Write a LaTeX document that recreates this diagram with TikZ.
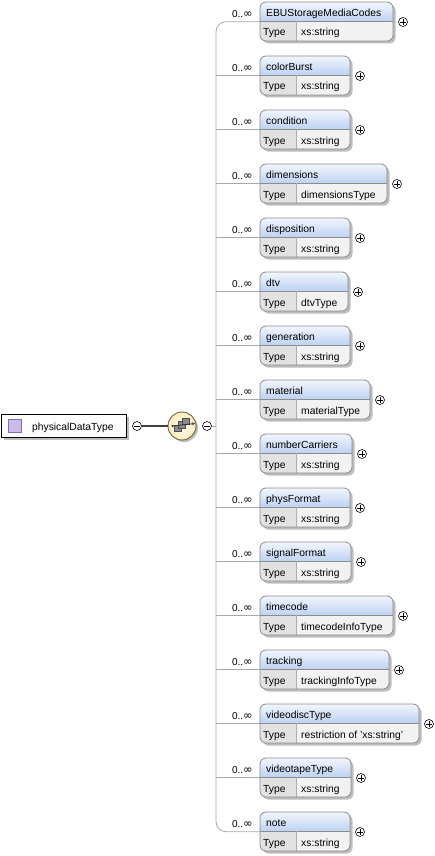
\documentclass[tikz,border=0pt]{standalone}
\usepackage{fontspec}
\setmainfont{Liberation Sans}
\newfontfamily\symfont{DejaVu Sans}
\usetikzlibrary{arrows.meta}
\definecolor{hdtop}{HTML}{F2F6FD}
\definecolor{hdbot}{HTML}{BED2F2}
\definecolor{rowc}{HTML}{F2F2F2}
\definecolor{typec}{HTML}{E2E2E2}
\definecolor{bordc}{HTML}{8C8C8C}
\definecolor{shadc}{HTML}{BDBDBD}
\definecolor{busc}{HTML}{A8A8A8}
\definecolor{seqfill}{HTML}{FBF6C8}
\definecolor{seqbord}{HTML}{6E6440}
\definecolor{iconfill}{HTML}{C9BCEB}
\definecolor{iconbord}{HTML}{7F6FB3}
\tikzset{
  elemframe/.style={draw=none, inner sep=0pt, anchor=north west, minimum height=39pt},
  titletext/.style={anchor=base west, inner sep=0pt, font=\fontsize{10.3}{12}\selectfont},
  rowtext/.style={anchor=base west, inner sep=0pt, font=\fontsize{10.3}{12}\selectfont},
  multtext/.style={anchor=base east, inner sep=0pt, font=\fontsize{10}{12}\selectfont},
  expander/.style={circle, draw=black, fill=white, minimum size=9pt, inner sep=0pt, line width=0.6pt,
    path picture={\draw[line width=0.7pt] ([xshift=-2.6pt]path picture bounding box.center) -- ([xshift=2.6pt]path picture bounding box.center);
      \draw[line width=0.7pt] ([yshift=-2.6pt]path picture bounding box.center) -- ([yshift=2.6pt]path picture bounding box.center);}},
  collapser/.style={circle, draw=black, fill=white, minimum size=9pt, inner sep=0pt, line width=0.6pt,
    path picture={\draw[line width=0.7pt] ([xshift=-2.6pt]path picture bounding box.center) -- ([xshift=2.6pt]path picture bounding box.center);}},
  busline/.style={draw=busc, line width=0.8pt},
}
\begin{document}
\begin{tikzpicture}[x=1pt,y=-1pt]
\useasboundingbox (0,0) rectangle (435,856);
\fill[white] (0,0) rectangle (435,856);
\coordinate (bus) at (216,426);

% root element
\fill[shadc] (4,417) rectangle (129,440);
\shade[top color=white, bottom color=white!92!iconfill] (1,414) rectangle (126,437);
\node[draw=black, line width=0.8pt, inner sep=0pt, minimum width=125pt, minimum height=23pt, anchor=north west] (root) at (1,414) {};
\node[draw=iconbord, fill=iconfill, line width=0.7pt, minimum size=13pt, inner sep=0pt] (rooticon) at (14.5,425.5) {};
\node[anchor=base west, inner sep=0pt, font=\fontsize{10.3}{12}\selectfont] (roottext) at (32,430) {physicalDataType};
\node[collapser] (rootminus) at (137,426) {};

% sequence compositor
\fill[shadc] (184,428) circle (14);
\node[circle, draw=seqbord, line width=0.9pt, inner color=white!60!seqfill, outer color=seqfill!85!orange!70!white, minimum size=28pt, inner sep=0pt] (seq) at (182,426) {};
\draw[line width=1.4pt, black!75] (rootminus) -- (seq);
\draw[black!70, line width=0.7pt, fill=black!45] (174.5,425) rectangle (181,431.5);
\draw[black!70, line width=0.7pt, fill=black!45] (178.5,421.5) rectangle (185,428);
\draw[black!70, line width=0.7pt, fill=black!45] (182.5,418) rectangle (189,424.5);
\draw[black!80, line width=0.8pt, -{Stealth[length=3pt,width=3pt]}] (172.5,426) -- (195,423.5);
\fill[black!80] (172.5,426) circle (1.2);
\node[collapser] (seqminus) at (207,426) {};
\draw[busline] (seqminus) -- (bus);

% elements
\foreach \i/\nm/\ty/\r in {
 0/EBUStorageMediaCodes/xs:string/393,
 1/colorBurst/xs:string/350,
 2/condition/xs:string/350,
 3/dimensions/dimensionsType/387,
 4/disposition/xs:string/350,
 5/dtv/dtvType/348,
 6/generation/xs:string/350,
 7/material/materialType/370,
 8/numberCarriers/xs:string/352,
 9/physFormat/xs:string/350,
 10/signalFormat/xs:string/351,
 11/timecode/timecodeInfoType/393,
 12/tracking/trackingInfoType/389,
 13/videodiscType/restriction of 'xs:string'/419,
 14/videotapeType/xs:string/351,
 15/note/xs:string/350}{
  \pgfmathsetmacro\t{2+54*\i}
  \pgfmathsetmacro\w{\r-260}
  % shadow
  \fill[shadc, rounded corners=6] (262.5,\t+2.5) rectangle (\r+2.5,\t+41.5);
  % body
  \begin{scope}
    \clip[rounded corners=6] (260,\t) rectangle (\r,\t+39);
    \fill[rowc] (260,\t) rectangle (\r,\t+39);
    \fill[typec] (260,\t+19) rectangle (296,\t+39);
    \shade[top color=hdtop, bottom color=hdbot] (260,\t) rectangle (\r,\t+19);
  \end{scope}
  \draw[bordc, line width=0.8pt] (260,\t+19) -- (\r,\t+19);
  \draw[bordc!70, line width=0.7pt] (296,\t+19) -- (296,\t+39);
  \draw[bordc, line width=0.8pt, rounded corners=6] (260,\t) rectangle (\r,\t+39);
  \node[elemframe, minimum width=\w pt] (e\i) at (260,\t) {};
  \node[titletext] (n\i) at (266,\t+14.5) {\nm};
  \node[rowtext] (tl\i) at (263,\t+34) {Type};
  \node[rowtext] (tv\i) at (301,\t+34) {\ty};
  \node[multtext] (m\i) at (253,\t+15.5) {0..{\symfont\fontsize{11.5}{12}\selectfont ∞}};
  \node[expander] (p\i) at (\r+10,\t+20) {};
}

% bus
\draw[busline, rounded corners=10] (e0.west) -| (bus) |- (e15.west);
\foreach \i in {1,...,14}{
  \draw[busline] (bus |- e\i.west) -- (e\i.west);
}
\end{tikzpicture}
\end{document}
